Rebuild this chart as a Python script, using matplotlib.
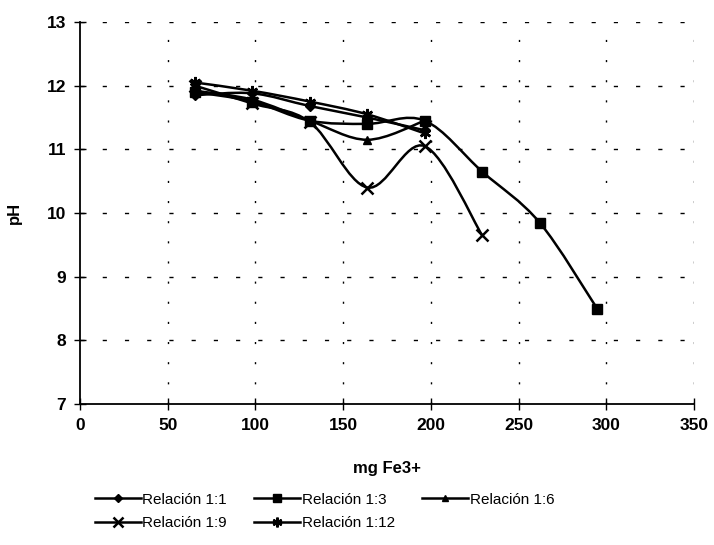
import matplotlib
matplotlib.use("Agg")
import matplotlib.pyplot as plt
from matplotlib.path import Path
from matplotlib.patches import PathPatch
from matplotlib.lines import Line2D

plt.rcParams['font.family'] = ['Liberation Sans', 'DejaVu Sans']

# Data =====================================================================
mg_fe = [65.5, 98.25, 131, 163.75, 196.5, 229.25, 262, 294.75]

ph_1_1 = [11.85, 11.88, 11.68, 11.50, 11.30]
ph_1_3 = [11.90, 11.75, 11.45, 11.40, 11.45, 10.65, 9.85, 8.50]
ph_1_6 = [11.92, 11.78, 11.45, 11.15, 11.45]
ph_1_9 = [12.00, 11.72, 11.43, 10.40, 11.05, 9.65]
ph_1_12 = [12.05, 11.92, 11.75, 11.55, 11.25]

labels = ["Relación 1:1", "Relación 1:3", "Relación 1:6", "Relación 1:9", "Relación 1:12"]
series = [ph_1_1, ph_1_3, ph_1_6, ph_1_9, ph_1_12]
markers = ["D", "s", "^", "x", (6, 2, 0)]
marker_sizes = [5, 7, 6, 8, 8]

X_TICKS = [0, 50, 100, 150, 200, 250, 300, 350]
Y_TICKS = [7, 8, 9, 10, 11, 12, 13]


def smooth_path(xs, ys):
    # Excel style smoothed line: cubic bezier through every point
    verts = [(xs[0], ys[0])]
    codes = [Path.MOVETO]
    n = len(xs)
    for i in range(n - 1):
        x0, y0 = (xs[i - 1], ys[i - 1]) if i > 0 else (xs[i], ys[i])
        x3, y3 = (xs[i + 2], ys[i + 2]) if i + 2 < n else (xs[i + 1], ys[i + 1])
        c1 = (xs[i] + (xs[i + 1] - x0) / 6, ys[i] + (ys[i + 1] - y0) / 6)
        c2 = (xs[i + 1] - (x3 - xs[i]) / 6, ys[i + 1] - (y3 - ys[i]) / 6)
        verts += [c1, c2, (xs[i + 1], ys[i + 1])]
        codes += [Path.CURVE4] * 3
    return Path(verts, codes)


fig = plt.figure(figsize=(7.14, 5.45), dpi=100)
ax = fig.add_axes([80 / 714, 1 - 404 / 545, 614 / 714, 382 / 545])

handles = []
for ys, lab, mk, ms in zip(series, labels, markers, marker_sizes):
    xs = mg_fe[:len(ys)]
    mew = 1.8 if mk in ("x", (6, 2, 0)) else 1
    ax.add_patch(PathPatch(smooth_path(xs, ys), facecolor="none", edgecolor="black", lw=1.8, zorder=3))
    ax.plot(xs, ys, linestyle="none", marker=mk, color="black", markersize=ms,
            markeredgewidth=mew, zorder=4)
    handles.append(Line2D([], [], color="black", lw=1.8, marker=mk, markersize=ms - 1,
                          markeredgewidth=mew, label=lab))

ax.set_xlim(0, 350)
ax.set_ylim(7, 13)
ax.set_xticks(X_TICKS)
ax.set_yticks(Y_TICKS)

# dashed horizontal grid, dotted vertical grid
for yv in Y_TICKS[1:]:
    ax.axhline(yv, color="black", lw=1, linestyle=(0, (3, 13)), zorder=1)
for xv in X_TICKS[1:]:
    ax.axvline(xv, color="black", lw=1, linestyle=(0, (1.5, 13)), zorder=1)

for side in ("top", "right"):
    ax.spines[side].set_visible(False)
ax.spines["left"].set_linewidth(1.3)
ax.spines["bottom"].set_linewidth(1.3)
ax.tick_params(direction="inout", length=8, width=1, labelsize=12.5, pad=6)
for t in ax.get_xticklabels() + ax.get_yticklabels():
    t.set_fontweight("bold")

ax.set_xlabel("mg Fe3+", fontsize=12, fontweight="bold", labelpad=20)
ax.set_ylabel("pH", fontsize=12, fontweight="bold", labelpad=18)

# legend laid out row by row like the original
order = [0, 3, 1, 4, 2]
fig.legend([handles[i] for i in order], [labels[i] for i in order],
           loc="upper left", bbox_to_anchor=(84 / 714, 1 - 482 / 545),
           ncol=3, frameon=False, fontsize=11, handlelength=3.0,
           handletextpad=0.1, columnspacing=1.8, labelspacing=0.6,
           borderpad=0.2)

fig.savefig("out.png", dpi=100)
